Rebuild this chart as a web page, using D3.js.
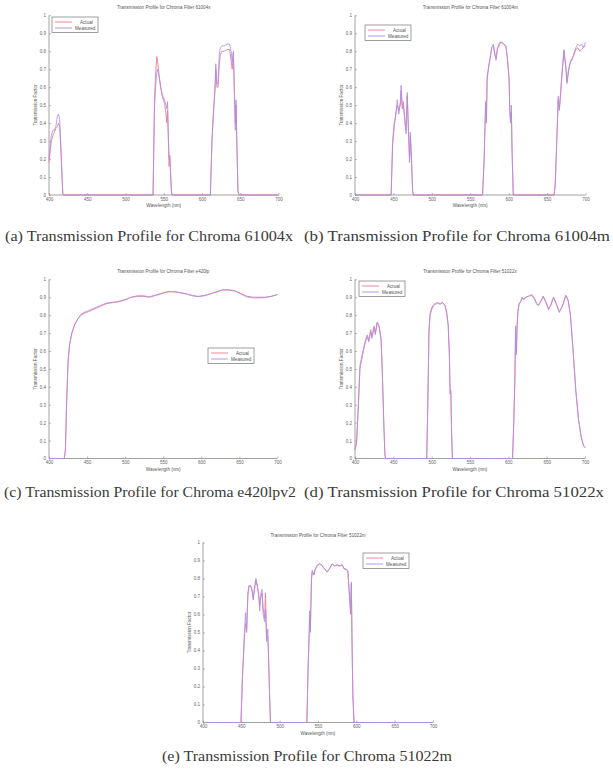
<!DOCTYPE html>
<html lang="en">
<head>
  <meta charset="UTF-8" />
  <title>Transmission Profiles for Chroma Filters</title>
  <script src="https://d3js.org/d3.v7.min.js"></script>
  <style>
    body { margin: 0; background: #fff; }
    svg { display: block; }
    .tick-label { font-family: "Liberation Sans", Arial, sans-serif; font-size: 4.5px; fill: #666; }
    .ax-title { font-family: "Liberation Sans", Arial, sans-serif; font-size: 4.6px; fill: #555; }
    .legend-text { font-family: "Liberation Sans", Arial, sans-serif; font-size: 4.6px; fill: #555; }
    .caption { font-family: "Liberation Serif", "DejaVu Serif", serif; font-size: 14px; fill: #3a3a3a; }
  </style>
</head>
<body>
<svg width="613" height="776"></svg>
<script>
// axis ticks
const wavelengthTicks = [400, 450, 500, 550, 600, 650, 700];
const transmissionTicks = [0, 0.1, 0.2, 0.3, 0.4, 0.5, 0.6, 0.7, 0.8, 0.9, 1];
const seriesNames = ["Actual", "Measured"];

// (a) 61004x
const wl61004x = [400, 401, 403, 405, 407, 409, 411, 412.5, 414, 416, 418, 419,
  536, 538, 540, 541, 542, 544, 546, 548, 551, 553, 554, 555, 556, 557, 558, 560, 561,
  611, 613, 615, 617, 618, 619.5, 621, 622.5, 624, 626, 629, 633, 636, 638, 639.5, 641, 642.5, 643.5, 644.5, 645.5, 647, 648.5,
  700];
const actual61004x = [0.18, 0.22, 0.3, 0.33, 0.35, 0.37, 0.38, 0.4, 0.38, 0.2, 0.01, 0,
  0, 0.55, 0.72, 0.77, 0.74, 0.66, 0.6, 0.55, 0.51, 0.45, 0.4, 0.47, 0.3, 0.16, 0.22, 0.02, 0,
  0, 0.3, 0.47, 0.58, 0.7, 0.6, 0.6, 0.72, 0.78, 0.8, 0.8, 0.81, 0.81, 0.75, 0.7, 0.79, 0.55, 0.4, 0.5, 0.3, 0.02, 0,
  0];
const measured61004x = [0.2, 0.25, 0.33, 0.36, 0.36, 0.38, 0.44, 0.45, 0.42, 0.22, 0.01, 0,
  0, 0.5, 0.64, 0.68, 0.7, 0.66, 0.6, 0.56, 0.53, 0.5, 0.48, 0.52, 0.35, 0.2, 0.2, 0.02, 0,
  0, 0.3, 0.45, 0.6, 0.73, 0.62, 0.62, 0.78, 0.82, 0.83, 0.83, 0.84, 0.84, 0.8, 0.74, 0.8, 0.55, 0.36, 0.53, 0.3, 0.02, 0,
  0];

// (b) 61004m
const wl61004m = [400,
  447, 449, 451, 453, 455, 457, 459, 460, 461.5, 463, 465, 466.5, 468, 469.5, 471, 472, 473.5, 475, 476,
  566, 568, 570, 571, 572, 574, 576, 578, 580, 582, 583.5, 585.5, 588.5, 591, 594, 596.5, 598.5, 600.5, 601.5, 602.5, 603.5, 604.5, 606,
  659, 660.5, 662.5, 664.5, 666, 667.5, 670, 672, 674.5, 676, 678, 680.5, 682.5, 685, 687.5, 690, 692.5, 695, 697, 700];
const actual61004m = [0,
  0, 0.28, 0.38, 0.45, 0.5, 0.47, 0.5, 0.58, 0.48, 0.52, 0.4, 0.36, 0.55, 0.36, 0.2, 0.33, 0.2, 0.02, 0,
  0, 0.18, 0.5, 0.4, 0.64, 0.72, 0.76, 0.82, 0.83, 0.78, 0.76, 0.82, 0.85, 0.85, 0.84, 0.82, 0.76, 0.64, 0.48, 0.42, 0.46, 0.22, 0,
  0, 0.05, 0.28, 0.53, 0.48, 0.55, 0.7, 0.8, 0.71, 0.63, 0.7, 0.74, 0.76, 0.78, 0.81, 0.82, 0.8, 0.81, 0.82, 0.83];
const measured61004m = [0,
  0, 0.3, 0.4, 0.44, 0.53, 0.45, 0.52, 0.61, 0.5, 0.5, 0.42, 0.34, 0.57, 0.38, 0.18, 0.35, 0.2, 0.02, 0,
  0, 0.2, 0.52, 0.42, 0.66, 0.71, 0.77, 0.82, 0.84, 0.79, 0.75, 0.81, 0.84, 0.85, 0.84, 0.83, 0.75, 0.65, 0.45, 0.4, 0.5, 0.25, 0,
  0, 0.05, 0.3, 0.55, 0.47, 0.57, 0.71, 0.81, 0.7, 0.62, 0.69, 0.75, 0.75, 0.79, 0.82, 0.84, 0.83, 0.84, 0.82, 0.85];

// (c) e420lp
const wlE420lp = [400, 420, 421.5, 423, 425, 427, 430, 434, 438, 442, 446, 452,
  460, 468, 476, 484, 492, 500, 508, 516, 524, 532, 540, 548, 556, 564, 572, 580, 588, 596,
  604, 612, 620, 628, 636, 644, 652, 660, 668, 676, 684, 692, 700];
const actualE420lp = [0, 0, 0.05, 0.3, 0.55, 0.64, 0.7, 0.75, 0.78, 0.8, 0.81, 0.82,
  0.835, 0.85, 0.865, 0.87, 0.875, 0.885, 0.9, 0.905, 0.905, 0.9, 0.91, 0.92, 0.93, 0.93, 0.925, 0.92, 0.91, 0.905,
  0.91, 0.92, 0.93, 0.94, 0.94, 0.935, 0.92, 0.905, 0.9, 0.9, 0.9, 0.905, 0.915];
const measuredE420lp = [0, 0, 0.04, 0.28, 0.53, 0.63, 0.7, 0.75, 0.78, 0.805, 0.815, 0.825,
  0.84, 0.855, 0.868, 0.872, 0.878, 0.888, 0.9, 0.908, 0.908, 0.903, 0.912, 0.922, 0.932, 0.932, 0.926, 0.918, 0.908, 0.903,
  0.908, 0.918, 0.93, 0.942, 0.942, 0.935, 0.918, 0.902, 0.896, 0.896, 0.898, 0.905, 0.914];

// (d) 51022x
const wl51022x = [400, 402, 404, 406.5, 409.5, 413, 416, 418, 420.5, 422, 425, 426.5, 429, 431.5, 434, 435.5, 437.5, 439, 440,
  493.5, 495, 496.5, 498, 500, 502, 504.5, 507.5, 511, 514.5, 517.5, 519.5, 521.5, 523, 524, 525, 526, 527,
  605.5, 607, 608.5, 609.5, 610.5, 611.5, 612.5, 614, 616, 618, 620, 623, 626, 630.5, 634, 637, 639.5, 642.5, 645.5, 649,
  652.5, 655.5, 659, 662.5, 666.5, 670.5, 675, 678, 681, 684.5, 688, 691.5, 695, 698, 700];
const actual51022x = [0.05, 0.09, 0.27, 0.52, 0.58, 0.65, 0.69, 0.66, 0.72, 0.68, 0.74, 0.7, 0.76, 0.74, 0.67, 0.5, 0.2, 0.02, 0,
  0, 0.32, 0.72, 0.81, 0.84, 0.855, 0.865, 0.87, 0.865, 0.87, 0.855, 0.82, 0.75, 0.58, 0.36, 0.38, 0.14, 0,
  0, 0.18, 0.42, 0.7, 0.6, 0.74, 0.82, 0.86, 0.875, 0.9, 0.89, 0.9, 0.905, 0.915, 0.895, 0.865, 0.855, 0.875, 0.905, 0.875,
  0.835, 0.855, 0.9, 0.865, 0.82, 0.85, 0.91, 0.885, 0.8, 0.6, 0.38, 0.22, 0.12, 0.07, 0.06];
const measured51022x = [0.05, 0.08, 0.25, 0.5, 0.57, 0.64, 0.68, 0.65, 0.71, 0.67, 0.73, 0.69, 0.76, 0.73, 0.66, 0.5, 0.21, 0.02, 0,
  0, 0.3, 0.7, 0.8, 0.83, 0.85, 0.86, 0.865, 0.86, 0.87, 0.85, 0.81, 0.745, 0.6, 0.4, 0.35, 0.15, 0,
  0, 0.2, 0.45, 0.74, 0.58, 0.75, 0.82, 0.865, 0.875, 0.895, 0.885, 0.9, 0.905, 0.91, 0.89, 0.86, 0.855, 0.88, 0.905, 0.87,
  0.83, 0.86, 0.9, 0.86, 0.815, 0.85, 0.91, 0.88, 0.8, 0.6, 0.38, 0.22, 0.12, 0.075, 0.06];

// (e) 51022m
const wl51022m = [400,
  449.5, 451.5, 454, 455.5, 457, 458.5, 460, 462, 464, 465.5, 467.5, 469, 471, 472.5, 474, 475.5, 477, 478.5, 480.5, 481.5,
  483, 484.5, 485.5, 486.5, 488,
  535.5, 537, 538.5, 539, 540, 541.5, 542.5, 544.5, 546.5, 549, 552, 555, 558.5, 562, 565, 568.5, 571.5, 575, 578.5, 581.5,
  584, 587, 589, 591.5, 592.5, 593.5, 594.5, 595.5, 597,
  700];
const actual51022m = [0,
  0, 0.25, 0.47, 0.55, 0.52, 0.7, 0.76, 0.76, 0.73, 0.69, 0.75, 0.79, 0.75, 0.71, 0.65, 0.7, 0.72, 0.63, 0.58, 0.72,
  0.48, 0.48, 0.36, 0.2, 0,
  0, 0.28, 0.48, 0.58, 0.52, 0.79, 0.84, 0.82, 0.85, 0.872, 0.88, 0.872, 0.853, 0.835, 0.853, 0.88, 0.868, 0.875, 0.868, 0.875,
  0.853, 0.85, 0.838, 0.68, 0.6, 0.78, 0.42, 0.15, 0,
  0];
const measured51022m = [0,
  0, 0.26, 0.5, 0.61, 0.5, 0.72, 0.76, 0.76, 0.74, 0.68, 0.76, 0.8, 0.76, 0.72, 0.62, 0.72, 0.74, 0.6, 0.56, 0.63,
  0.45, 0.52, 0.38, 0.2, 0,
  0, 0.3, 0.5, 0.62, 0.5, 0.8, 0.845, 0.82, 0.855, 0.875, 0.883, 0.874, 0.855, 0.837, 0.855, 0.883, 0.87, 0.877, 0.87, 0.877,
  0.855, 0.852, 0.84, 0.67, 0.62, 0.77, 0.4, 0.15, 0,
  0];

const colors = { Actual: "#ee7d92", Measured: "#a98cec" };

const panels = [
  { name: "61004x", wl: wl61004x, actual: actual61004x, measured: measured61004x,
    caption: "(a) Transmission Profile for Chroma 61004x",
    box: [49, 278.5, 15.3, 195], legend: [52, 17], cap: [149, 241, 288] },
  { name: "61004m", wl: wl61004m, actual: actual61004m, measured: measured61004m,
    caption: "(b) Transmission Profile for Chroma 61004m",
    box: [355, 585.5, 15.3, 195], legend: [365, 25], cap: [457, 241, 306] },
  { name: "e420lp", wl: wlE420lp, actual: actualE420lp, measured: measuredE420lp,
    caption: "(c) Transmission Profile for Chroma e420lpv2",
    box: [49, 277.5, 279.3, 458.5], legend: [208, 348], cap: [150, 497, 292] },
  { name: "51022x", wl: wl51022x, actual: actual51022x, measured: measured51022x,
    caption: "(d) Transmission Profile for Chroma 51022x",
    box: [355, 585, 279.3, 458.5], legend: [359, 281], cap: [454, 497, 300] },
  { name: "51022m", wl: wl51022m, actual: actual51022m, measured: measured51022m,
    caption: "(e) Transmission Profile for Chroma 51022m",
    box: [203, 433, 542.5, 722.5], legend: [363, 553], cap: [307, 761, 290] }
];

const svg = d3.select("svg");

panels.forEach(p => {
  const [x0, x1, yTop, yBot] = p.box;
  const x = d3.scaleLinear().domain([400, 700]).range([x0, x1]);
  const y = d3.scaleLinear().domain([0, 1]).range([yBot, yTop]);
  const g = svg.append("g");

  // axes, matlab style: ticks inside, no box
  const xAxis = d3.axisBottom(x).tickValues(wavelengthTicks).tickSize(-2).tickPadding(2.5).tickFormat(d3.format("d"));
  const yAxis = d3.axisLeft(y).tickValues(transmissionTicks).tickSize(-2).tickPadding(3).tickFormat(d => d === 0 ? "0" : d === 1 ? "1" : d3.format(".1f")(d));

  const gx = g.append("g").attr("transform", `translate(0,${yBot})`).call(xAxis);
  const gy = g.append("g").attr("transform", `translate(${x0},0)`).call(yAxis);
  [gx, gy].forEach(a => {
    a.select(".domain").attr("stroke", "#8a8a8a").attr("stroke-width", 0.8);
    a.selectAll(".tick line").attr("stroke", "#8a8a8a").attr("stroke-width", 0.6);
    a.selectAll(".tick text").attr("class", "tick-label").attr("font-size", null).attr("font-family", null).attr("fill", null);
  });
  gx.select(".domain").attr("d", `M${x0},0H${x1}`);
  gy.select(".domain").attr("d", `M0,${yBot}V${yTop}`);

  g.append("text").attr("class", "ax-title")
    .attr("x", (x0 + x1) / 2).attr("y", yTop - 6)
    .attr("text-anchor", "middle")
    .text("Transmission Profile for Chroma Filter " + p.name);
  g.append("text").attr("class", "ax-title")
    .attr("x", (x0 + x1) / 2).attr("y", yBot + 12)
    .attr("text-anchor", "middle")
    .text("Wavelength (nm)");
  g.append("text").attr("class", "ax-title")
    .attr("transform", `translate(${x0 - 12},${(yTop + yBot) / 2}) rotate(-90)`)
    .attr("text-anchor", "middle")
    .text("Transmission Factor");

  const line = d3.line().x(d => x(d[0])).y(d => y(d[1]));
  const series = [
    { key: "Actual", values: p.wl.map((w, i) => [w, p.actual[i]]) },
    { key: "Measured", values: p.wl.map((w, i) => [w, p.measured[i]]) }
  ];
  g.selectAll("path.series").data(series).join("path")
    .attr("class", "series")
    .attr("d", d => line(d.values))
    .attr("fill", "none")
    .attr("stroke", d => colors[d.key])
    .attr("stroke-width", 1)
    .attr("stroke-opacity", d => d.key === "Measured" ? 0.8 : 0.9)
    .attr("stroke-linejoin", "round");

  // legend
  const [lx, ly] = p.legend;
  const lg = g.append("g").attr("transform", `translate(${lx},${ly})`);
  lg.append("rect").attr("width", 46).attr("height", 15.5)
    .attr("fill", "#fff").attr("stroke", "#777").attr("stroke-width", 0.7);
  seriesNames.forEach((s, i) => {
    const yy = 5 + i * 6;
    lg.append("line").attr("x1", 3).attr("x2", 20).attr("y1", yy).attr("y2", yy)
      .attr("stroke", colors[s]).attr("stroke-width", 0.9);
    lg.append("text").attr("class", "legend-text").attr("x", s === "Actual" ? 28 : 23).attr("y", yy + 1.6).text(s);
  });

  // caption
  const [cx, cy, cw] = p.cap;
  svg.append("text").attr("class", "caption")
    .attr("x", cx).attr("y", cy)
    .attr("text-anchor", "middle")
    .attr("textLength", cw).attr("lengthAdjust", "spacingAndGlyphs")
    .text(p.caption);
});
</script>
</body>
</html>
